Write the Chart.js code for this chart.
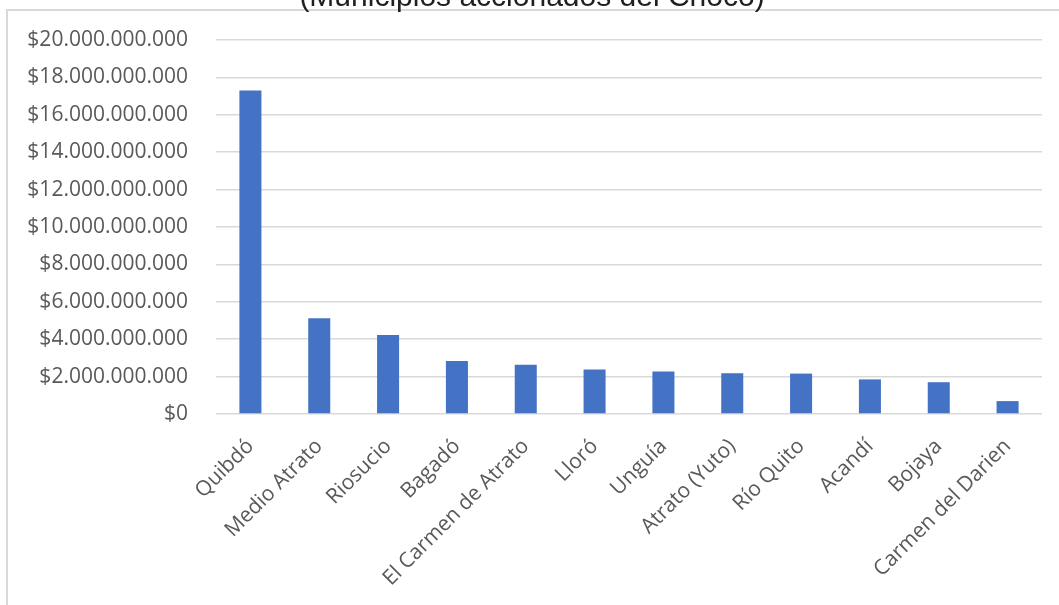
<!DOCTYPE html>
<html lang="es">
<head>
<meta charset="utf-8">
<title>Municipios accionados del Chocó</title>
<script src="https://cdn.jsdelivr.net/npm/chart.js@4.4.1/dist/chart.umd.min.js"></script>
<style>
    html, body {
        margin: 0;
        padding: 0;
        width: 1059px;
        height: 605px;
        overflow: hidden;
        background: #ffffff;
    }
    .marco {
        position: absolute;
        left: 6px;
        top: 9px;
        width: 1100px;
        height: 700px;
        border-left: 2px solid #d9d9d9;
        border-top: 2px solid #d9d9d9;
    }
    .grafico {
        position: absolute;
        left: 22px;
        top: -30px;
        width: 1059px;
        height: 635px;
    }
</style>
</head>
<body>
<div class="marco"></div>
<div class="grafico"><canvas id="chart-container"></canvas></div>
<script>
// Municipios (eje X)
const municipios = [
    'Quibdó', 'Medio Atrato', 'Riosucio', 'Bagadó', 'El Carmen de Atrato', 'Lloró',
    'Unguía', 'Atrato (Yuto)', 'Río Quito', 'Acandí', 'Bojaya', 'Carmen del Darien'
];

// Valores en pesos
const valores = [
    17300000000, 5120000000, 4220000000, 2840000000, 2640000000, 2380000000,
    2270000000, 2180000000, 2160000000, 1850000000, 1700000000, 690000000
];

// Eje Y
const yMin = 0;
const yMax = 20000000000;
const yPaso = 2000000000;

const tituloTexto = '(Municipios accionados del Chocó)';

// Formato tipo "$18.000.000.000"
function formatoPesos(v) {
    return '$' + Math.round(v).toString().replace(/\B(?=(\d{3})+(?!\d))/g, '.');
}

document.addEventListener('DOMContentLoaded', function() {
    const canvas = document.getElementById('chart-container');
    if (!canvas) return;

    const fuente = "'Open Sans', 'Noto Sans', sans-serif";

    new Chart(canvas.getContext('2d'), {
        type: 'bar',
        data: {
            labels: municipios,
            datasets: [{
                label: 'Valor',
                data: valores,
                backgroundColor: '#4472c4',
                borderWidth: 0,
                barPercentage: 0.32,
                categoryPercentage: 1.0
            }]
        },
        options: {
            responsive: true,
            maintainAspectRatio: false,
            animation: false,
            layout: {
                // el lienzo empieza en x=22, así el título queda centrado como en el original
                padding: { left: 0, right: 39, top: 0, bottom: 0 }
            },
            plugins: {
                legend: { display: false },
                tooltip: { enabled: false },
                title: {
                    display: true,
                    text: tituloTexto,
                    color: '#1f1f1f',
                    font: { family: "'Liberation Sans', Arial, sans-serif", size: 30, weight: 'normal' },
                    padding: { top: 10, bottom: 24 }
                }
            },
            scales: {
                x: {
                    grid: { display: false, drawTicks: false },
                    border: { display: false },
                    ticks: {
                        color: '#595959',
                        font: { family: fuente, size: 21 },
                        minRotation: 45,
                        maxRotation: 45,
                        autoSkip: false,
                        padding: 20
                    },
                    afterFit: function(scale) {
                        scale.height = 191;
                    }
                },
                y: {
                    min: yMin,
                    max: yMax,
                    grid: {
                        color: '#d9d9d9',
                        lineWidth: 1.5,
                        drawTicks: false
                    },
                    border: { display: false },
                    ticks: {
                        stepSize: yPaso,
                        color: '#595959',
                        font: { family: fuente, size: 21 },
                        padding: 28,
                        callback: function(v) { return formatoPesos(v); }
                    },
                    afterFit: function(scale) {
                        scale.width = 194;
                    }
                }
            }
        }
    });
});
</script>
</body>
</html>
